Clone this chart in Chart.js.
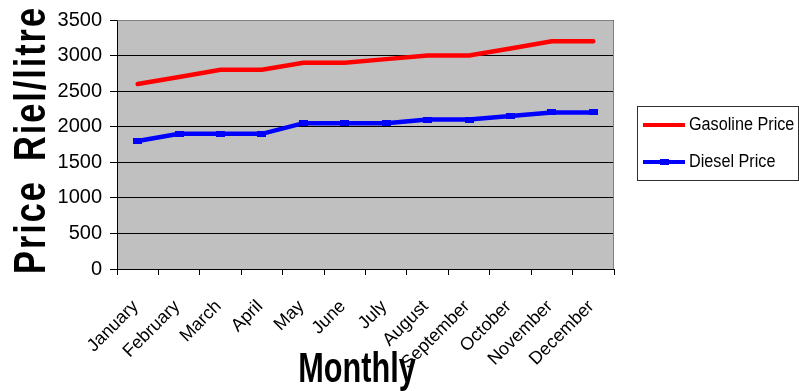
<!DOCTYPE html>
<html>
<head>
<meta charset="utf-8">
<script src="https://cdn.jsdelivr.net/npm/chart.js@4.4.1/dist/chart.umd.min.js"></script>
<style>
  html, body { margin: 0; padding: 0; background: #ffffff; }
  #wrap { width: 799px; height: 391px; position: relative; }
</style>
</head>
<body>
<div id="wrap"><canvas id="priceChart"></canvas></div>
<script>
// Monthly fuel prices (riel per litre)
const months = ['January', 'February', 'March', 'April', 'May', 'June',
                'July', 'August', 'September', 'October', 'November', 'December'];
const gasolinePrice = [2600, 2700, 2800, 2800, 2900, 2900, 2950, 3000, 3000, 3100, 3200, 3200];
const dieselPrice   = [1800, 1900, 1900, 1900, 2050, 2050, 2050, 2100, 2100, 2150, 2200, 2200];
const seriesNames = ['Gasoline Price', 'Diesel Price'];
const yAxisTitle = 'Price Riel/litre';
const xAxisTitle = 'Monthly';
const priceMin = 0, priceMax = 3500, priceStep = 500;

const FONT = '"Liberation Sans", Arial, sans-serif';

// short horizontal dash used as the diesel point marker
const dashMarker = (() => {
  const c = document.createElement('canvas');
  c.width = 9; c.height = 6;
  const g = c.getContext('2d');
  g.fillStyle = '#0000ff';
  g.fillRect(0, 0, 9, 6);
  return c;
})();

// grey plot panel with a soft border on top and right
const plotPanel = {
  id: 'plotPanel',
  beforeDraw(chart) {
    const { ctx, chartArea: a } = chart;
    ctx.save();
    ctx.fillStyle = '#c0c0c0';
    ctx.fillRect(a.left, a.top, a.right - a.left, a.bottom - a.top);
    ctx.restore();
  },
  beforeDatasetsDraw(chart) {
    const { ctx, chartArea: a } = chart;
    ctx.save();
    ctx.strokeStyle = '#808080';
    ctx.lineWidth = 1;
    ctx.beginPath();
    ctx.moveTo(Math.round(a.left) + 0.5, Math.round(a.top) + 0.5);
    ctx.lineTo(Math.round(a.right) - 0.5, Math.round(a.top) + 0.5);
    ctx.lineTo(Math.round(a.right) - 0.5, Math.round(a.bottom));
    ctx.stroke();
    ctx.restore();
  }
};

// axis titles in a heavy condensed face and a boxed legend at the right
const decorations = {
  id: 'decorations',
  afterDraw(chart) {
    const { ctx } = chart;
    // vertical title
    ctx.save();
    ctx.translate(45, 140);
    ctx.rotate(-Math.PI / 2);
    ctx.scale(0.78, 1);
    ctx.font = 'bold 44px ' + FONT;
    ctx.fillStyle = '#000';
    ctx.textAlign = 'center';
    ctx.textBaseline = 'alphabetic';
    ctx.letterSpacing = '2.5px';
    ctx.wordSpacing = '10px';
    ctx.fillText(yAxisTitle, 0, 0);
    ctx.restore();

    // horizontal title
    ctx.save();
    ctx.translate(357, 382);
    ctx.scale(0.73, 1);
    ctx.font = 'bold 42px ' + FONT;
    ctx.fillStyle = '#000';
    ctx.textAlign = 'center';
    ctx.textBaseline = 'alphabetic';
    ctx.fillText(xAxisTitle, 0, 0);
    ctx.restore();

    // legend
    ctx.save();
    ctx.strokeStyle = '#303030';
    ctx.lineWidth = 1;
    ctx.strokeRect(637.5, 106.5, 161, 74);
    const rows = [125, 162];
    chart.data.datasets.forEach((ds, i) => {
      const y = rows[i];
      ctx.strokeStyle = ds.borderColor;
      ctx.lineWidth = 4;
      ctx.beginPath();
      ctx.moveTo(643, y);
      ctx.lineTo(685, y);
      ctx.stroke();
      if (ds.pointStyle === dashMarker) {
        ctx.drawImage(dashMarker, 660, y - 3);
      }
      ctx.save();
      ctx.translate(689, y);
      ctx.scale(0.9, 1);
      ctx.font = '18px ' + FONT;
      ctx.fillStyle = '#000';
      ctx.textAlign = 'left';
      ctx.textBaseline = 'middle';
      ctx.fillText(ds.label, 0, 0);
      ctx.restore();
    });
    ctx.restore();
  }
};

new Chart(document.getElementById('priceChart'), {
  type: 'line',
  data: {
    labels: months,
    datasets: [
      {
        label: seriesNames[0],
        data: gasolinePrice,
        borderColor: '#ff0000',
        backgroundColor: '#ff0000',
        borderWidth: 4.5,
        pointRadius: 0,
        tension: 0,
        borderCapStyle: 'round'
      },
      {
        label: seriesNames[1],
        data: dieselPrice,
        borderColor: '#0000ff',
        backgroundColor: '#0000ff',
        borderWidth: 4.5,
        pointStyle: dashMarker,
        pointRadius: 4,
        tension: 0,
        borderCapStyle: 'round'
      }
    ]
  },
  options: {
    responsive: true,
    maintainAspectRatio: false,
    animation: false,
    layout: { padding: { top: 16, right: 185, bottom: 0, left: 0 } },
    plugins: {
      legend: { display: false },
      tooltip: { enabled: false }
    },
    scales: {
      x: {
        offset: true,
        afterFit(scale) { scale.height = 122; },
        border: { color: '#000', width: 1 },
        grid: {
          offset: true,
          drawOnChartArea: false,
          drawTicks: true,
          tickLength: 6,
          color: '#000'
        },
        ticks: {
          autoSkip: false,
          minRotation: 45,
          maxRotation: 45,
          padding: 21,
          labelOffset: -2,
          color: '#000',
          font: { family: FONT, size: 18 }
        }
      },
      y: {
        min: priceMin,
        max: priceMax,
        afterFit(scale) { scale.width = 117; },
        border: { color: '#000', width: 1 },
        grid: {
          color: '#000',
          drawTicks: true,
          tickLength: 7
        },
        ticks: {
          stepSize: priceStep,
          padding: 8,
          color: '#000',
          font: { family: FONT, size: 20 },
          callback: (v) => String(v)
        }
      }
    }
  },
  plugins: [plotPanel, decorations]
});
</script>
</body>
</html>
